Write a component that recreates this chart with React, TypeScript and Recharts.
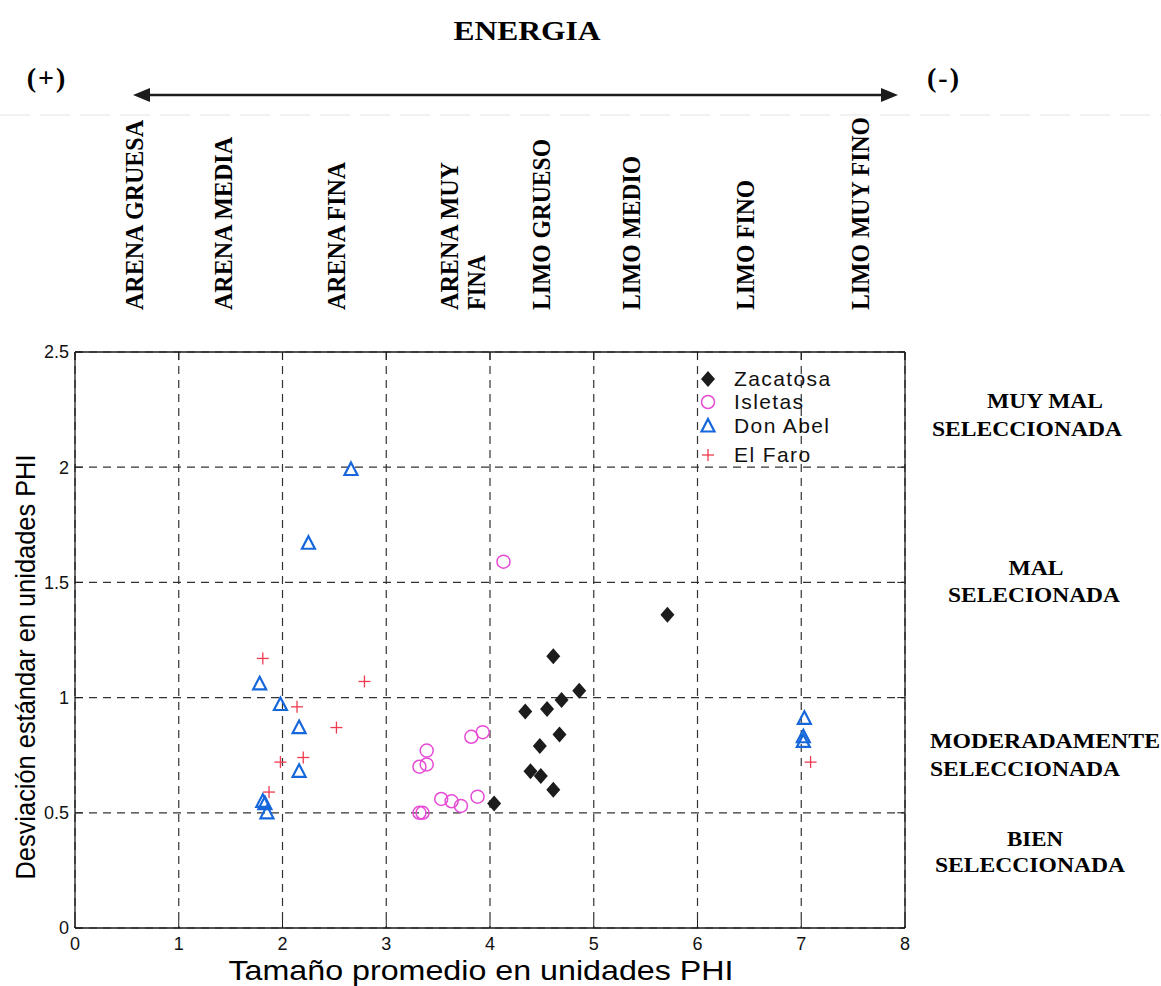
import React from 'react'
import {
  ScatterChart,
  Scatter,
  XAxis,
  YAxis,
  CartesianGrid,
  ReferenceLine,
  Legend,
} from 'recharts'

// tamaño promedio (phi) vs desviación estándar (phi)
const zacatosa = [
  { x: 4.61, y: 1.18 },
  { x: 4.86, y: 1.03 },
  { x: 4.69, y: 0.99 },
  { x: 4.55, y: 0.95 },
  { x: 4.34, y: 0.94 },
  { x: 4.67, y: 0.84 },
  { x: 4.48, y: 0.79 },
  { x: 4.39, y: 0.68 },
  { x: 4.49, y: 0.66 },
  { x: 4.61, y: 0.6 },
  { x: 4.04, y: 0.54 },
  { x: 5.71, y: 1.36 },
]

const isletas = [
  { x: 4.13, y: 1.59 },
  { x: 3.82, y: 0.83 },
  { x: 3.93, y: 0.85 },
  { x: 3.39, y: 0.77 },
  { x: 3.32, y: 0.7 },
  { x: 3.39, y: 0.71 },
  { x: 3.53, y: 0.56 },
  { x: 3.63, y: 0.55 },
  { x: 3.72, y: 0.53 },
  { x: 3.88, y: 0.57 },
  { x: 3.32, y: 0.5 },
  { x: 3.35, y: 0.5 },
]

const donAbel = [
  { x: 2.66, y: 1.99 },
  { x: 2.25, y: 1.67 },
  { x: 1.78, y: 1.06 },
  { x: 1.98, y: 0.97 },
  { x: 2.16, y: 0.87 },
  { x: 2.16, y: 0.68 },
  { x: 1.81, y: 0.55 },
  { x: 1.83, y: 0.54 },
  { x: 1.85, y: 0.5 },
  { x: 7.03, y: 0.91 },
  { x: 7.02, y: 0.83 },
  { x: 7.02, y: 0.81 },
]

const elFaro = [
  { x: 1.81, y: 1.17 },
  { x: 2.79, y: 1.07 },
  { x: 2.14, y: 0.96 },
  { x: 2.52, y: 0.87 },
  { x: 1.98, y: 0.72 },
  { x: 2.2, y: 0.74 },
  { x: 1.87, y: 0.59 },
  { x: 7.09, y: 0.72 },
]

const xTicks = [0, 1, 2, 3, 4, 5, 6, 7, 8]
const yTicks = [0, 0.5, 1, 1.5, 2, 2.5]

// grain-size classes written above the plot (x = centre of the rotated label)
const sizeClasses = [
  { text: 'ARENA GRUESA', x: 134, len: 190 },
  { text: 'ARENA MEDIA', x: 223, len: 173 },
  { text: 'ARENA FINA', x: 336, len: 148 },
  { text: 'ARENA MUY', x: 449, len: 148 },
  { text: 'FINA', x: 476, len: 55 },
  { text: 'LIMO GRUESO', x: 541, len: 171 },
  { text: 'LIMO MEDIO', x: 631, len: 154 },
  { text: 'LIMO FINO', x: 745, len: 130 },
  { text: 'LIMO MUY FINO', x: 860, len: 193 },
]

// sorting classes on the right
const sortingLabels = [
  { text: 'MUY MAL', x: 1045, y: 408, len: 116 },
  { text: 'SELECCIONADA', x: 1027, y: 436, len: 190 },
  { text: 'MAL', x: 1036, y: 575, len: 55 },
  { text: 'SELECIONADA', x: 1034, y: 602, len: 172 },
  { text: 'MODERADAMENTE', x: 1045, y: 748, len: 230 },
  { text: 'SELECCIONADA', x: 1025, y: 776, len: 190 },
  { text: 'BIEN', x: 1035, y: 846, len: 56 },
  { text: 'SELECCIONADA', x: 1030, y: 872, len: 190 },
]

const BLACK = '#1c1c1c'
const PINK = '#e64bd6'
const BLUE = '#1667db'
const RED = '#ef3b4f'
const SANS = '"Liberation Sans", Arial, sans-serif'
const SERIF = '"Liberation Serif", "Times New Roman", serif'

const Diamond = ({ cx, cy }: any) => (
  <polygon
    points={`${cx},${cy - 8} ${cx + 7},${cy} ${cx},${cy + 8} ${cx - 7},${cy}`}
    fill={BLACK}
  />
)

const Ring = ({ cx, cy }: any) => (
  <circle cx={cx} cy={cy} r={6.5} fill="none" stroke={PINK} strokeWidth={1.5} />
)

const Tri = ({ cx, cy }: any) => (
  <polygon
    points={`${cx},${cy - 7} ${cx + 6.5},${cy + 5.5} ${cx - 6.5},${cy + 5.5}`}
    fill="none"
    stroke={BLUE}
    strokeWidth={2.2}
  />
)

const Plus = ({ cx, cy }: any) => (
  <g stroke={RED} strokeWidth={1.3}>
    <line x1={cx - 6} y1={cy} x2={cx + 6} y2={cy} />
    <line x1={cx} y1={cy - 6} x2={cx} y2={cy + 6} />
  </g>
)

const legendItems = [
  { name: 'Zacatosa', Icon: Diamond },
  { name: 'Isletas', Icon: Ring },
  { name: 'Don Abel', Icon: Tri },
  { name: 'El Faro', Icon: Plus },
]

const renderLegend = () => (
  <div style={{ fontFamily: SANS, fontSize: 21, color: '#111', lineHeight: '22px', letterSpacing: 1.4 }}>
    {legendItems.map((it, i) => (
      <div
        key={it.name}
        style={{ display: 'flex', alignItems: 'center', height: i === 2 ? 26 : 23, marginTop: i === 3 ? 4 : 0 }}
      >
        <svg width={24} height={20} style={{ marginRight: 13 }}>
          <it.Icon cx={11} cy={10} />
        </svg>
        <span>{it.name}</span>
      </div>
    ))}
  </div>
)

export default function App() {
  return (
    <div style={{ position: 'absolute', top: 0, left: 0, width: 1161, height: 986, background: '#fff' }}>
      <ScatterChart width={1161} height={986} margin={{ top: 352, right: 256, bottom: 0, left: 0 }}>
        <CartesianGrid stroke="#333" strokeWidth={1.2} strokeDasharray="8 6" />
        <XAxis
          type="number"
          dataKey="x"
          domain={[0, 8]}
          ticks={xTicks}
          height={58}
          tickSize={0}
          tickMargin={9}
          axisLine={{ stroke: BLACK, strokeWidth: 1.3 }}
          tick={{ fontFamily: SANS, fontSize: 18, fill: '#111' }}
        />
        <YAxis
          type="number"
          dataKey="y"
          domain={[0, 2.5]}
          ticks={yTicks}
          width={75}
          tickSize={0}
          tickMargin={6}
          axisLine={{ stroke: BLACK, strokeWidth: 1.3 }}
          tick={{ fontFamily: SANS, fontSize: 18, fill: '#111' }}
        />
        <ReferenceLine y={2.5} stroke={BLACK} strokeWidth={1.3} />
        <ReferenceLine x={8} stroke={BLACK} strokeWidth={1.3} />
        {xTicks.map((t) => (
          <ReferenceLine key={'xb' + t} segment={[{ x: t, y: 0 }, { x: t, y: 0.035 }]} stroke={BLACK} />
        ))}
        {xTicks.map((t) => (
          <ReferenceLine key={'xt' + t} segment={[{ x: t, y: 2.5 }, { x: t, y: 2.465 }]} stroke={BLACK} />
        ))}
        {yTicks.map((t) => (
          <ReferenceLine key={'yl' + t} segment={[{ x: 0, y: t }, { x: 0.075, y: t }]} stroke={BLACK} />
        ))}
        {yTicks.map((t) => (
          <ReferenceLine key={'yr' + t} segment={[{ x: 8, y: t }, { x: 7.925, y: t }]} stroke={BLACK} />
        ))}
        <Scatter name="Zacatosa" data={zacatosa} shape={(p: any) => <Diamond {...p} />} isAnimationActive={false} />
        <Scatter name="Isletas" data={isletas} shape={(p: any) => <Ring {...p} />} isAnimationActive={false} />
        <Scatter name="Don Abel" data={donAbel} shape={(p: any) => <Tri {...p} />} isAnimationActive={false} />
        <Scatter name="El Faro" data={elFaro} shape={(p: any) => <Plus {...p} />} isAnimationActive={false} />
        <Legend
          layout="vertical"
          align="center"
          verticalAlign="middle"
          content={renderLegend}
          wrapperStyle={{ position: 'absolute', top: 367, left: 697, width: 170 }}
        />
      </ScatterChart>

      <svg
        width={1161}
        height={986}
        style={{ position: 'absolute', top: 0, left: 0, pointerEvents: 'none' }}
      >
        <text x={527} y={40} textAnchor="middle" fontFamily={SERIF} fontWeight="bold" fontSize={28} textLength={147} lengthAdjust="spacingAndGlyphs">
          ENERGIA
        </text>
        <text x={47} y={87} textAnchor="middle" fontFamily={SERIF} fontWeight="bold" fontSize={28} letterSpacing={2}>
          (+)
        </text>
        <text x={944} y={87} textAnchor="middle" fontFamily={SERIF} fontWeight="bold" fontSize={28} letterSpacing={2}>
          (-)
        </text>
        <line x1={146} y1={95} x2={884} y2={95} stroke={BLACK} strokeWidth={2.4} />
        <polygon points="133,95 150,88 150,102" fill={BLACK} />
        <polygon points="898,95 881,88 881,102" fill={BLACK} />
        <line x1={0} y1={115} x2={1161} y2={115} stroke="#e4e4e4" strokeWidth={1} strokeDasharray="30 10" />

        {sizeClasses.map((c) => (
          <text
            key={c.text + c.x}
            x={0}
            y={0}
            transform={`translate(${c.x + 9}, 310) rotate(-90)`}
            fontFamily={SERIF}
            fontWeight="bold"
            fontSize={25}
            textLength={c.len}
            lengthAdjust="spacingAndGlyphs"
          >
            {c.text}
          </text>
        ))}

        {sortingLabels.map((s, i) => (
          <text
            key={i}
            x={s.x}
            y={s.y}
            textAnchor="middle"
            fontFamily={SERIF}
            fontWeight="bold"
            fontSize={21}
            textLength={s.len}
            lengthAdjust="spacingAndGlyphs"
          >
            {s.text}
          </text>
        ))}

        <text x={481} y={980} textAnchor="middle" fontFamily={SANS} fontSize={28} textLength={505} lengthAdjust="spacingAndGlyphs">
          Tamaño promedio en unidades PHI
        </text>
        <text
          x={0}
          y={0}
          transform="translate(35, 667) rotate(-90)"
          textAnchor="middle"
          fontFamily={SANS}
          fontSize={27}
          textLength={425}
          lengthAdjust="spacingAndGlyphs"
        >
          Desviación estándar en unidades PHI
        </text>
      </svg>
    </div>
  )
}
